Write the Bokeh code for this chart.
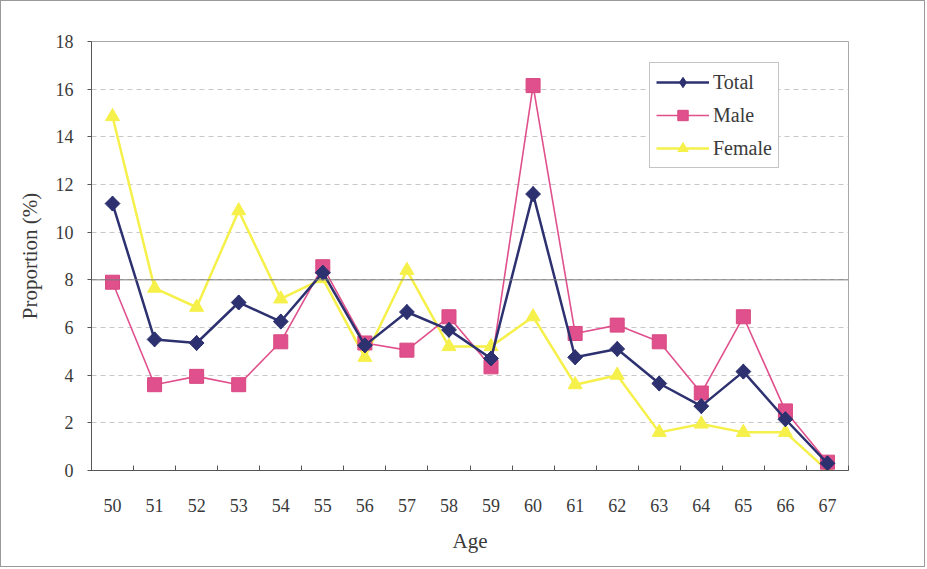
import math

from bokeh.plotting import figure
from bokeh.models import (ColumnDataSource, Range1d, FixedTicker, Legend, LegendItem,
                          Span)
from bokeh.embed import file_html
from bokeh.resources import INLINE

# Proportion (%) by age
ages = [50, 51, 52, 53, 54, 55, 56, 57, 58, 59, 60, 61, 62, 63, 64, 65, 66, 67]
total = [11.2, 5.5, 5.35, 7.05, 6.25, 8.3, 5.25, 6.65, 5.9, 4.7,
         11.6, 4.75, 5.1, 3.65, 2.7, 4.15, 2.15, 0.3]
male = [7.9, 3.6, 3.95, 3.6, 5.4, 8.55, 5.35, 5.05, 6.45, 4.35,
        16.15, 5.75, 6.1, 5.4, 3.25, 6.45, 2.5, 0.35]
female = [14.85, 7.65, 6.85, 10.9, 7.2, 8.05, 4.75, 8.4, 5.2, 5.2,
          6.45, 3.6, 4.0, 1.6, 1.95, 1.6, 1.6, 0.0]
y_ticks = [0, 2, 4, 6, 8, 10, 12, 14, 16, 18]
ref_level = 8

FONT = "Liberation Serif"
C_TOTAL = "#2d3170"
C_MALE = "#e0508c"
C_FEMALE = "#f6f04a"

src = ColumnDataSource(dict(age=ages, total=total, male=male, female=female))

p = figure(width=925, height=567, output_backend="svg", toolbar_location=None,
           x_range=Range1d(ages[0] - 0.5, ages[-1] + 0.5),
           y_range=Range1d(y_ticks[0], y_ticks[-1]),
           min_border_left=90, min_border_right=78, min_border_top=40,
           min_border_bottom=98,
           styles={"border": "1px solid #9a9a9a"})
p.background_fill_color = "white"
p.border_fill_color = "white"
p.outline_line_color = "#a8a8a8"
p.outline_line_width = 1

# axes
boundaries = [a - 0.5 for a in ages] + [ages[-1] + 0.5]
p.xaxis.ticker = FixedTicker(ticks=ages, minor_ticks=boundaries)
p.xaxis.major_tick_line_color = None
p.xaxis.minor_tick_in = 5
p.xaxis.minor_tick_out = 0
p.xaxis.minor_tick_line_color = "#555555"
p.xaxis.axis_line_color = "#555555"
p.xaxis.major_label_standoff = 22
p.xaxis.axis_label = "Age"
p.xaxis.axis_label_standoff = 14

p.yaxis.ticker = FixedTicker(ticks=y_ticks, minor_ticks=[])
p.yaxis.major_tick_in = 0
p.yaxis.major_tick_out = 4
p.yaxis.major_tick_line_color = "#555555"
p.yaxis.axis_line_color = "#555555"
p.yaxis.major_label_standoff = 14
p.yaxis.axis_label = "Proportion (%)"
p.yaxis.axis_label_standoff = 11

for ax in (p.xaxis, p.yaxis):
    ax.major_label_text_font = FONT
    ax.major_label_text_font_size = "18px"
    ax.major_label_text_color = "#3a3a3a"
    ax.axis_label_text_font = FONT
    ax.axis_label_text_font_size = "21px"
    ax.axis_label_text_font_style = "normal"
    ax.axis_label_text_color = "#3a3a3a"

p.xgrid.grid_line_color = None
p.ygrid.grid_line_color = "#c8c8c8"
p.ygrid.grid_line_dash = "5 4"
p.ygrid.grid_line_width = 1
p.add_layout(Span(location=ref_level, dimension="width",
                  line_color="#7a7a7a", line_width=1))

# series
lf = p.line("age", "female", source=src, color=C_FEMALE, line_width=2.5)
sf = p.scatter("age", "female", source=src, marker="triangle", size=14,
               fill_color=C_FEMALE, line_color=C_FEMALE)
lm = p.line("age", "male", source=src, color=C_MALE, line_width=1.6)
sm = p.scatter("age", "male", source=src, marker="square", size=14,
               fill_color=C_MALE, line_color="#d84880")
lt = p.line("age", "total", source=src, color=C_TOTAL, line_width=2.5)
# narrow diamond used as the legend swatch; it sits under the wider markers
st_key = p.scatter("age", "total", source=src, marker="diamond", size=15,
                   fill_color=C_TOTAL, line_color=C_TOTAL)
# square diamond: a square turned by 45 degrees
st = p.scatter("age", "total", source=src, marker="square", size=10.5,
               angle=math.pi / 4, fill_color=C_TOTAL, line_color=C_TOTAL)

legend = Legend(items=[LegendItem(label="Total", renderers=[lt, st_key]),
                       LegendItem(label="Male", renderers=[lm, sm]),
                       LegendItem(label="Female", renderers=[lf, sf])],
                location=(558, 302))
legend.label_text_font = FONT
legend.label_text_font_size = "20px"
legend.label_text_color = "#3a3a3a"
legend.glyph_width = 53
legend.glyph_height = 26
legend.spacing = 7
legend.padding = 6
legend.margin = 0
legend.label_standoff = 4
legend.border_line_color = "#8a8a8a"
legend.border_line_width = 1
legend.background_fill_color = "white"
legend.background_fill_alpha = 1
p.add_layout(legend)

open("out.html", "w").write(file_html(p, INLINE))
